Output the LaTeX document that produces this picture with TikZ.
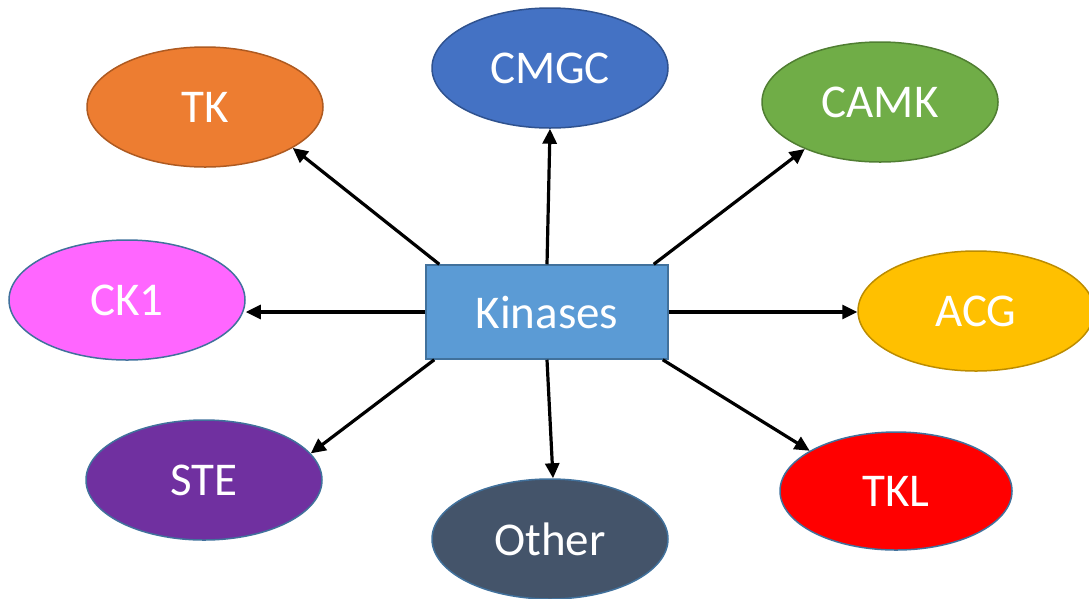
\documentclass[tikz,border=0pt]{standalone}
\usepackage{fontspec}
\setmainfont{Carlito}
\usetikzlibrary{shapes.geometric,arrows.meta}
\definecolor{tkf}{HTML}{ED7D31}\definecolor{tkd}{HTML}{AE5A21}
\definecolor{cmf}{HTML}{4472C4}\definecolor{cmd}{HTML}{2F528F}
\definecolor{caf}{HTML}{70AD47}\definecolor{cad}{HTML}{507E32}
\definecolor{ckf}{HTML}{FF66FF}
\definecolor{acf}{HTML}{FFC000}\definecolor{acd}{HTML}{BC8C00}
\definecolor{stf}{HTML}{7030A0}
\definecolor{otf}{HTML}{44546A}
\definecolor{tlf}{HTML}{FF0000}
\definecolor{kf}{HTML}{5B9BD5}
\definecolor{bd}{HTML}{41719C}
\begin{document}
\begin{tikzpicture}[x=1pt,y=-1pt,
  lbl/.style={text=white,font=\fontsize{47}{50}\selectfont},
  oval/.style={lbl,ellipse,minimum width=236pt,minimum height=120pt,inner sep=0pt,line width=1.5pt},
  hub/.style={lbl,rectangle,fill=kf,draw=bd,line width=1.5pt,minimum width=242pt,minimum height=94pt,inner sep=0pt},
  conn/.style={line width=3.2pt,-{Triangle[length=15pt,width=14pt]}}]
\useasboundingbox (0,0) rectangle (1089,598);
\node[hub] (k) at (547,312) {Kinases};
\node[oval,fill=tkf,draw=tkd] (tk) at (205,107) {TK};
\node[oval,fill=cmf,draw=cmd] (cmgc) at (550,68) {CMGC};
\node[oval,fill=caf,draw=cad] (camk) at (880,102) {CAMK};
\node[oval,fill=ckf,draw=bd] (ck1) at (127,300) {CK1};
\node[oval,fill=acf,draw=acd] (acg) at (976,311) {ACG};
\node[oval,fill=stf,draw=bd] (ste) at (204,480) {STE};
\node[oval,fill=otf,draw=bd] (other) at (550,539) {Other};
\node[oval,fill=tlf,draw=bd,minimum width=232pt,minimum height=118pt] (tkl) at (896,491) {TKL};
\draw[conn] ([xshift=14pt]k.north west) -- (tk.-25);
\draw[conn] (k.north) -- (cmgc.south);
\draw[conn] ([xshift=-15pt]k.north east) -- (camk.-148.5);
\draw[conn] (k.west) -- (k.west -| ck1.east);
\draw[conn] (k.east) -- (k.east -| acg.west);
\draw[conn] ([xshift=9pt]k.south west) -- (ste.14);
\draw[conn] (k.south) -- ([xshift=3pt]other.north);
\draw[conn] ([xshift=-6pt]k.south east) -- (tkl.155.7);
\end{tikzpicture}
\end{document}
